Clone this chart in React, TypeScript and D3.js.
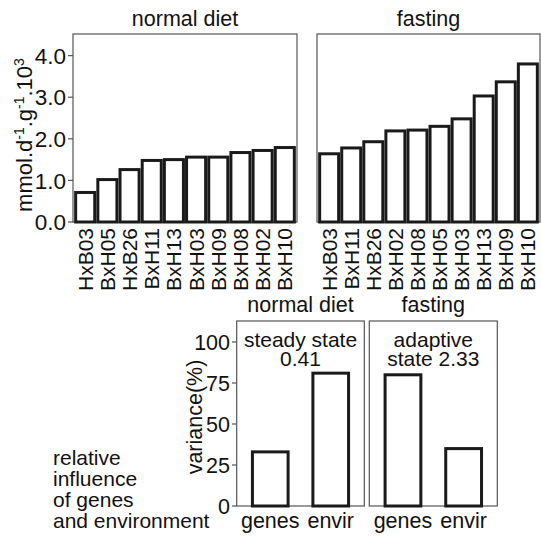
import React from "react";
import * as d3 from "d3";

// top panels: strains sorted by value
const normalStrains = ["HxB03", "BxH05", "HxB26", "BxH11", "BxH13", "BxH03", "BxH09", "BxH08", "BxH02", "BxH10"];
const normalValues = [0.71, 1.02, 1.26, 1.48, 1.5, 1.56, 1.56, 1.67, 1.72, 1.79];
const fastingStrains = ["HxB03", "BxH11", "HxB26", "BxH02", "BxH08", "BxH05", "BxH03", "BxH13", "BxH09", "BxH10"];
const fastingValues = [1.64, 1.78, 1.93, 2.19, 2.21, 2.3, 2.48, 3.03, 3.37, 3.8];
const topTicks = [0, 1, 2, 3, 4];

// bottom panels: variance explained
const sources = ["genes", "envir"];
const normalVariance = [33, 81];
const fastingVariance = [80, 35];
const varTicks = [0, 25, 50, 75, 100];

const FONT = "'Liberation Sans', Arial, Helvetica, sans-serif";
const BAR_STROKE = "#1a1a1a";
const FRAME_STROKE = "#555";

const top = { y0: 34, y1: 222 };
const bottom = { y0: 321, y1: 506 };

const yTop = d3.scaleLinear().domain([0, 4.52]).range([top.y1, top.y0]);
const yBottom = d3.scaleLinear().domain([0, 112.8]).range([bottom.y1, bottom.y0]);

function TopPanel({ x0, x1, title, names, values }) {
  const x = d3.scaleBand().domain(names).range([x0, x1]).paddingInner(0.14).paddingOuter(0.12);
  return (
    <g>
      <text x={(x0 + x1) / 2} y={26} textAnchor="middle" fontSize={21.5}>{title}</text>
      <rect x={x0} y={top.y0} width={x1 - x0} height={top.y1 - top.y0} fill="none" stroke={FRAME_STROKE} strokeWidth={1.2} />
      {names.map((n, i) => (
        <rect key={n} x={x(n)} y={yTop(values[i])} width={x.bandwidth()} height={yTop(0) - yTop(values[i])}
          fill="#fff" stroke={BAR_STROKE} strokeWidth={3} />
      ))}
      {names.map(n => {
        const cx = x(n) + x.bandwidth() / 2;
        return (
          <text key={"l" + n} transform={`translate(${cx + 7.5},228) rotate(-90)`} textAnchor="end" fontSize={21}>{n}</text>
        );
      })}
    </g>
  );
}

function BottomPanel({ x0, x1, title, values, lines }) {
  const x = d3.scaleBand().domain(sources).range([x0, x1]).paddingInner(0.41).paddingOuter(0.26);
  const cx = (x0 + x1) / 2;
  return (
    <g>
      <text x={cx} y={311.5} textAnchor="middle" fontSize={21.5}>{title}</text>
      <rect x={x0} y={bottom.y0} width={x1 - x0} height={bottom.y1 - bottom.y0} fill="none" stroke={FRAME_STROKE} strokeWidth={1.2} />
      {lines.map((l, i) => (
        <text key={l} x={cx} y={347 + i * 19} textAnchor="middle" fontSize={21}>{l}</text>
      ))}
      {sources.map((s, i) => (
        <rect key={s} x={x(s)} y={yBottom(values[i])} width={x.bandwidth()} height={yBottom(0) - yBottom(values[i])}
          fill="#fff" stroke={BAR_STROKE} strokeWidth={3} />
      ))}
      {sources.map(s => (
        <text key={"l" + s} x={x(s) + x.bandwidth() / 2} y={528} textAnchor="middle" fontSize={21.5}>{s}</text>
      ))}
    </g>
  );
}

export default function App() {
  return (
    <svg width={541} height={537} style={{ position: "absolute", left: 0, top: 0, background: "#fff" }}
      fontFamily={FONT} fill="#111">
      <TopPanel x0={73} x1={297} title="normal diet" names={normalStrains} values={normalValues} />
      <TopPanel x0={317} x1={540} title="fasting" names={fastingStrains} values={fastingValues} />

      {/* top y axis */}
      {topTicks.map(t => (
        <g key={t}>
          <line x1={68} x2={73} y1={yTop(t)} y2={yTop(t)} stroke={FRAME_STROKE} strokeWidth={1.2} />
          <text x={66} y={yTop(t)} dy="0.36em" textAnchor="end" fontSize={22.5}>{t.toFixed(1)}</text>
        </g>
      ))}
      <text transform="translate(32,135) rotate(-90)" textAnchor="middle" fontSize={22}>
        mmol.d<tspan dy={-8} fontSize={14}>-1</tspan>
        <tspan dy={8}>.g</tspan><tspan dy={-8} fontSize={14}>-1</tspan>
        <tspan dy={8}>.10</tspan><tspan dy={-8} fontSize={14}>3</tspan>
      </text>

      <BottomPanel x0={236.7} x1={364.3} title="normal diet" values={normalVariance} lines={["steady state", "0.41"]} />
      <BottomPanel x0={369.3} x1={497.3} title="fasting" values={fastingVariance} lines={["adaptive", "state 2.33"]} />

      {/* bottom y axis */}
      {varTicks.map(t => (
        <g key={t}>
          <line x1={232} x2={236.7} y1={yBottom(t)} y2={yBottom(t)} stroke={FRAME_STROKE} strokeWidth={1.2} />
          <text x={230} y={yBottom(t)} dy="0.36em" textAnchor="end" fontSize={21.5}>{t}</text>
        </g>
      ))}
      <text transform="translate(202,417) rotate(-90)" textAnchor="middle" fontSize={21.5}>variance(%)</text>

      {["relative", "influence", "of genes", "and environment"].map((l, i) => (
        <text key={l} x={53} y={465 + i * 21.1} fontSize={21}>{l}</text>
      ))}
    </svg>
  );
}
